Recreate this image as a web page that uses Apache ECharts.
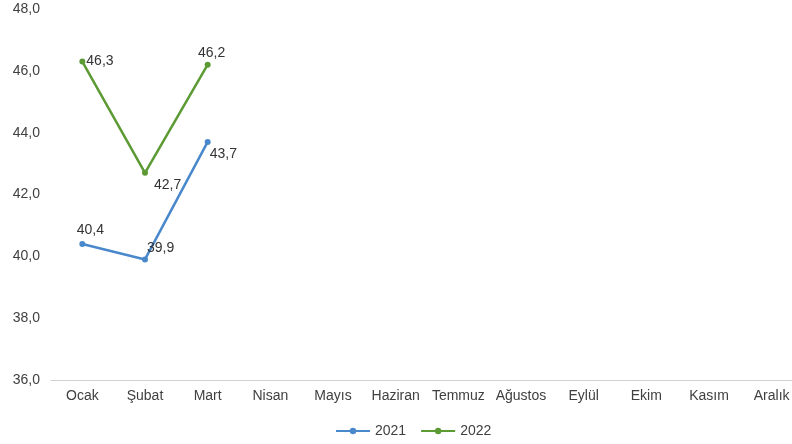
<!doctype html>
<html lang="tr">
<head>
    <meta charset="UTF-8">
    <title>Grafik</title>
    <style>
        html, body { margin: 0; background: #fff; overflow: hidden; }
        #main { width: 803px; height: 444px; }
    </style>
</head>
<body>
<div id="main"></div>
<script src="https://cdn.jsdelivr.net/npm/echarts@6/dist/echarts.min.js"></script>
<script type="text/javascript">
    const months = ['Ocak', 'Şubat', 'Mart', 'Nisan', 'Mayıs', 'Haziran', 'Temmuz', 'Ağustos', 'Eylül', 'Ekim', 'Kasım', 'Aralık']
    const values2021 = [40.4, 39.9, 43.7]
    const values2022 = [46.3, 42.7, 46.2]

    const fmt = v => v.toFixed(1).replace('.', ',')

    // etiket yerleri (resimdeki gibi)
    const pos2021 = [{position: 'top', offset: [8, 0]}, {position: 'right', offset: [-5, -11]}, {position: 'right', offset: [-5, 12]}]
    const pos2022 = [{position: 'right', offset: [-3, 0]}, {position: 'right', offset: [2, 12]}, {position: 'top', offset: [4, 2]}]

    const withLabels = (vals, pos) => vals.map((v, i) => ({
        value: v,
        label: {show: true, position: pos[i].position, offset: pos[i].offset, distance: 4, formatter: p => fmt(p.value)}
    }))

    // kap 803px, ekran 792px: Aralık sütunu biraz dışarı taşıyor
    const myChart = echarts.init(document.getElementById('main'))
    const option = {
        animation: false,
        textStyle: {fontFamily: 'Liberation Sans, Arial, sans-serif'},
        grid: {left: 51, top: 9, right: 0, bottom: 64},
        legend: {
            top: 419,
            left: 330,
            itemWidth: 34,
            itemHeight: 8,
            itemGap: 14,
            textStyle: {color: '#404040', fontSize: 14},
            data: ['2021', '2022']
        },
        xAxis: {
            type: 'category',
            data: months,
            axisLine: {lineStyle: {color: '#d0d0d0'}},
            axisTick: {show: false},
            axisLabel: {color: '#404040', fontSize: 14, margin: 9, interval: 0}
        },
        yAxis: {
            type: 'value',
            min: 36,
            max: 48,
            interval: 2,
            splitLine: {show: false},
            axisLabel: {color: '#404040', fontSize: 14, margin: 11, formatter: v => fmt(v)}
        },
        series: [
            {
                name: '2021',
                type: 'line',
                data: withLabels(values2021, pos2021),
                symbol: 'circle',
                symbolSize: 6,
                lineStyle: {width: 2.5, color: '#4a88cc'},
                itemStyle: {color: '#4a88cc'},
                label: {color: '#333', fontSize: 14}
            },
            {
                name: '2022',
                type: 'line',
                data: withLabels(values2022, pos2022),
                symbol: 'circle',
                symbolSize: 6,
                lineStyle: {width: 2.5, color: '#5c9a34'},
                itemStyle: {color: '#5c9a34'},
                label: {color: '#333', fontSize: 14}
            }
        ]
    }
    myChart.setOption(option)
</script>
</body>
</html>
